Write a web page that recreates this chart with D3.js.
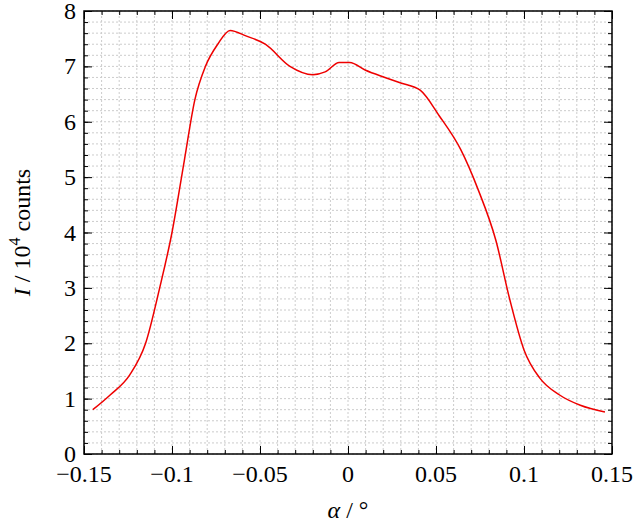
<!DOCTYPE html>
<html><head><meta charset="utf-8">
<script src="https://cdn.jsdelivr.net/npm/d3@7"></script>
<style>body{margin:0;background:#fff}text{font-family:"Liberation Serif","Times New Roman",serif}</style>
</head><body>
<svg id="chart" width="640" height="530"></svg>
<script>
var alphaValues = [-0.145,-0.135,-0.124,-0.115,-0.107,-0.1,-0.093,-0.087,-0.081,-0.074,-0.067,-0.058,-0.047,-0.033,-0.02,-0.013,-0.005,0.001,0.01,0.021,0.03,0.041,0.052,0.064,0.074,0.084,0.092,0.1,0.109,0.12,0.132,0.146];
var intensity = [0.8,1.07,1.43,2.0,3.0,4.0,5.3,6.4,7.0,7.4,7.65,7.55,7.4,7.0,6.85,6.9,7.07,7.07,6.93,6.8,6.7,6.57,6.1,5.5,4.77,3.86,2.78,1.88,1.37,1.07,0.88,0.76];
var xTicks = [-0.15,-0.1,-0.05,0,0.05,0.1,0.15];
var yTicks = [0,1,2,3,4,5,6,7,8];

var svg = d3.select("#chart");
var margin = {left: 84, right: 28, top: 11, bottom: 76};
var W = 640, H = 530;
var x = d3.scaleLinear().domain([-0.15, 0.15]).range([margin.left, W - margin.right]);
var y = d3.scaleLinear().domain([0, 8]).range([H - margin.bottom, margin.top]);

// grid
var gx = d3.range(-0.15, 0.1501, 0.01), gy = d3.range(0, 8.01, 0.2);
svg.append("g").selectAll("line").data(gx).join("line")
    .attr("x1", d => x(d)).attr("x2", d => x(d))
    .attr("y1", y(0)).attr("y2", y(8))
    .attr("stroke", "#ccc").attr("stroke-dasharray", "2,2");
svg.append("g").selectAll("line").data(gy).join("line")
    .attr("y1", d => y(d)).attr("y2", d => y(d))
    .attr("x1", x(-0.15)).attr("x2", x(0.15))
    .attr("stroke", "#ccc").attr("stroke-dasharray", "2,2");

// inward ticks on all sides
function ticks(axisFn, scale, vals, transform, size) {
    svg.append("g").attr("transform", transform)
        .call(axisFn(scale).tickValues(vals).tickSize(size).tickFormat(""))
        .call(g => g.select(".domain").remove())
        .selectAll("line").attr("stroke", "#000");
}
ticks(d3.axisBottom, x, gx, "translate(0," + y(0) + ")", -4);
ticks(d3.axisTop, x, gx, "translate(0," + y(8) + ")", -4);
ticks(d3.axisLeft, y, gy, "translate(" + x(-0.15) + ",0)", -4);
ticks(d3.axisRight, y, gy, "translate(" + x(0.15) + ",0)", -4);
ticks(d3.axisBottom, x, xTicks, "translate(0," + y(0) + ")", -8);
ticks(d3.axisTop, x, xTicks, "translate(0," + y(8) + ")", -8);
ticks(d3.axisLeft, y, yTicks, "translate(" + x(-0.15) + ",0)", -8);
ticks(d3.axisRight, y, yTicks, "translate(" + x(0.15) + ",0)", -8);

svg.append("rect").attr("x", x(-0.15)).attr("y", y(8))
    .attr("width", x(0.15) - x(-0.15)).attr("height", y(0) - y(8))
    .attr("fill", "none").attr("stroke", "#000").attr("stroke-width", 1.5);

// tick labels
svg.append("g").selectAll("text").data(xTicks).join("text")
    .attr("x", d => x(d)).attr("y", y(0) + 28).attr("text-anchor", "middle")
    .attr("font-size", 24).text(d => d === 0 ? "0" : (d < 0 ? "\u2212" : "") + Math.abs(d));
svg.append("g").selectAll("text").data(yTicks).join("text")
    .attr("x", x(-0.15) - 8).attr("y", d => y(d) + 8).attr("text-anchor", "end")
    .attr("font-size", 24).text(d => d);

// axis titles
var xt = svg.append("text").attr("x", x(0)).attr("y", 518).attr("text-anchor", "middle").attr("font-size", 24);
xt.append("tspan").attr("font-style", "italic").text("\u03b1");
xt.append("tspan").text(" / \u00b0");
var yt = svg.append("text").attr("transform", "translate(30," + y(4) + ") rotate(-90)")
    .attr("text-anchor", "middle").attr("font-size", 24);
yt.append("tspan").attr("font-style", "italic").text("I");
yt.append("tspan").text(" / 10");
yt.append("tspan").attr("font-size", 16).attr("dy", -10).text("4");
yt.append("tspan").attr("dy", 10).text(" counts");

// curve
var pts = alphaValues.map((a, i) => [a, intensity[i]]);
svg.append("path").datum(pts)
    .attr("d", d3.line().x(d => x(d[0])).y(d => y(d[1])).curve(d3.curveMonotoneX))
    .attr("fill", "none").attr("stroke", "#e00").attr("stroke-width", 1.5);
</script>
</body></html>
